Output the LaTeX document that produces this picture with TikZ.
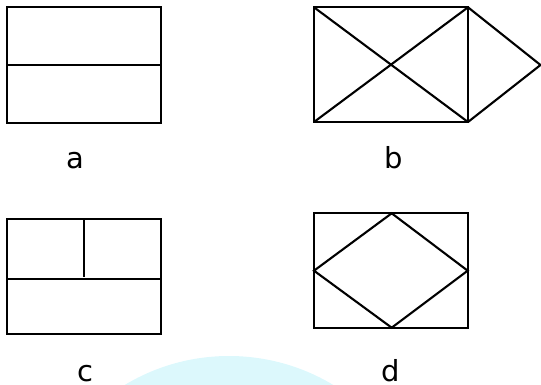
\documentclass[tikz,border=0pt]{standalone}
\usepackage{fontspec}
\setmainfont{DejaVu Sans}
\definecolor{wmcyan}{RGB}{220,248,252}
\begin{document}
\begin{tikzpicture}[x=1pt,y=-1pt,
  fig/.style={draw=black,line width=2.1pt,line join=miter},
  lbl/.style={anchor=base,inner sep=0pt,font=\fontsize{29}{30}\selectfont}]
\useasboundingbox (0,0) rectangle (541,385);
% faint watermark arc
\begin{scope}
\clip (0,0) rectangle (541,385);
\fill[wmcyan] (229,558) circle (202);
\end{scope}
% a
\coordinate (a1) at (7.3,7.3);
\coordinate (a2) at (161.3,122.6);
\draw[fig] (a1) rectangle (a2);
\draw[fig] (7.3,65) -- (161.3,65);
\node[lbl] (la) at (75.5,168.3) {a};
% b
\coordinate (b1) at (314,7.3);
\coordinate (b2) at (468,7.3);
\coordinate (b3) at (468,122);
\coordinate (b4) at (314,122);
\coordinate (bt) at (540.5,65);
\draw[fig] (b1) -- (b2) -- (b3) -- (b4) -- cycle;
\draw[fig] (b1) -- (b3);
\draw[fig] (b4) -- (b2);
\draw[fig] (b2) -- (bt) -- (b3);
\node[lbl] (lb) at (393.5,168.3) {b};
% c
\coordinate (c1) at (7.3,219);
\coordinate (c2) at (161.3,334);
\draw[fig] (c1) rectangle (c2);
\draw[fig] (7.3,279) -- (161.3,279);
\draw[fig] (84,219) -- (84,276.5);
\node[lbl] (lc) at (85,381.5) {c};
% d
\coordinate (d1) at (314,213.3);
\coordinate (d2) at (467.7,327.7);
\draw[fig] (d1) rectangle (d2);
\coordinate (dn) at (391.7,213.3);
\coordinate (de) at (467.7,270.7);
\coordinate (ds) at (391.7,327.7);
\coordinate (dw) at (314,270.7);
\draw[fig] (dn) -- (de) -- (ds) -- (dw) -- cycle;
\node[lbl] (ld) at (391,381.5) {d};
\end{tikzpicture}
\end{document}
